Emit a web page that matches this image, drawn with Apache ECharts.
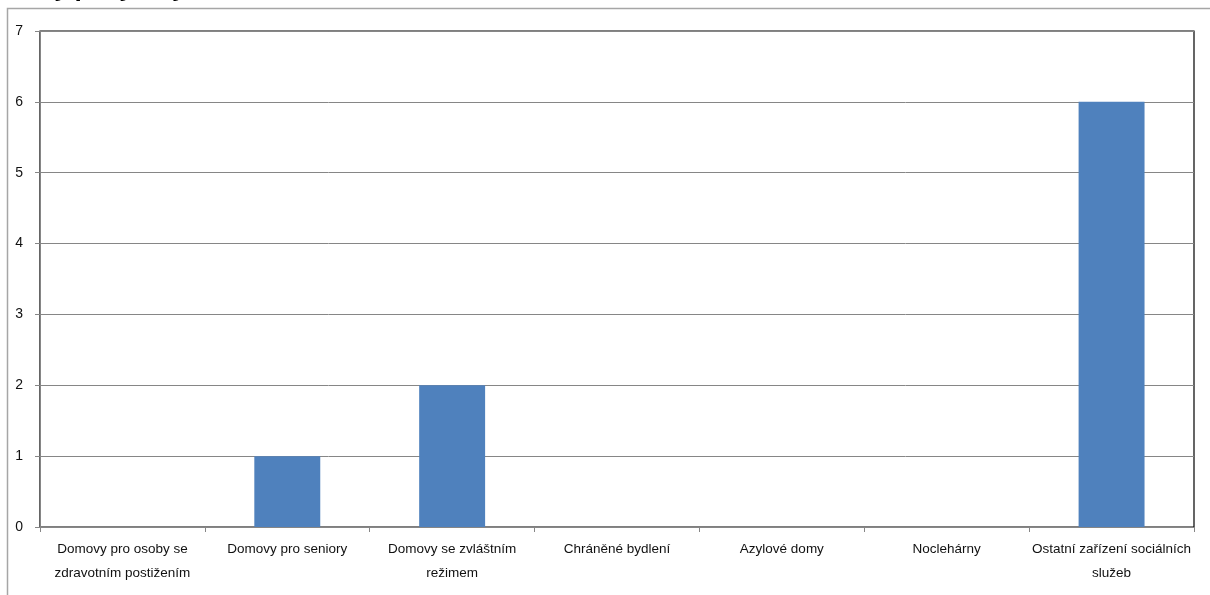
<!DOCTYPE html>
<html><head><meta charset="utf-8">
<script src="https://cdn.jsdelivr.net/npm/echarts@6/dist/echarts.min.js"></script>
<style>html,body{margin:0;padding:0;background:#fff;}#c{width:1210px;height:595px;}</style>
</head><body><div id="c"></div>
<script>
const categories = ["Domovy pro osoby se\nzdravotním postižením","Domovy pro seniory","Domovy se zvláštním\nrežimem","Chráněné bydlení","Azylové domy","Noclehárny","Ostatní zařízení sociálních\nslužeb"];
const values = [0,1,2,0,0,0,6];
const yTicks = {min:0,max:7,interval:1};
const titleText = "Počty pobytových zařízení sociálních služeb";

const chart = echarts.init(document.getElementById('c'));
chart.setOption({
  animation:false,
  graphic:[
    {type:'rect',shape:{x:7.5,y:8.5,width:1300,height:700},style:{fill:'none',stroke:'#a6a6a6',lineWidth:1.5},z:0},
    {type:'text',x:2,y:-24,style:{text:titleText,font:'bold 24px "Open Sans"',fill:'#000'},z:5}
  ],
  grid:{left:40,right:16,top:31,bottom:68,show:true,borderColor:'#000',borderWidth:1.2,backgroundColor:'#fff'},
  xAxis:{type:'category',data:categories,
    axisLine:{lineStyle:{color:'#868686',width:1}},
    axisTick:{show:true,length:5,lineStyle:{color:'#868686'}},
    axisLabel:{interval:0,color:'#111',fontFamily:'Liberation Sans',fontSize:13.5,lineHeight:24,margin:10}},
  yAxis:{type:'value',min:yTicks.min,max:yTicks.max,interval:yTicks.interval,
    axisLine:{show:true,lineStyle:{color:'#868686'}},
    axisTick:{show:true,length:5,lineStyle:{color:'#868686'}},
    splitLine:{lineStyle:{color:'#868686',width:1}},
    axisLabel:{color:'#111',fontFamily:'Liberation Sans',fontSize:14,margin:17}},
  series:[{type:'bar',data:values,barWidth:'40%',itemStyle:{color:'#4F81BD'}}]
});
</script></body></html>
